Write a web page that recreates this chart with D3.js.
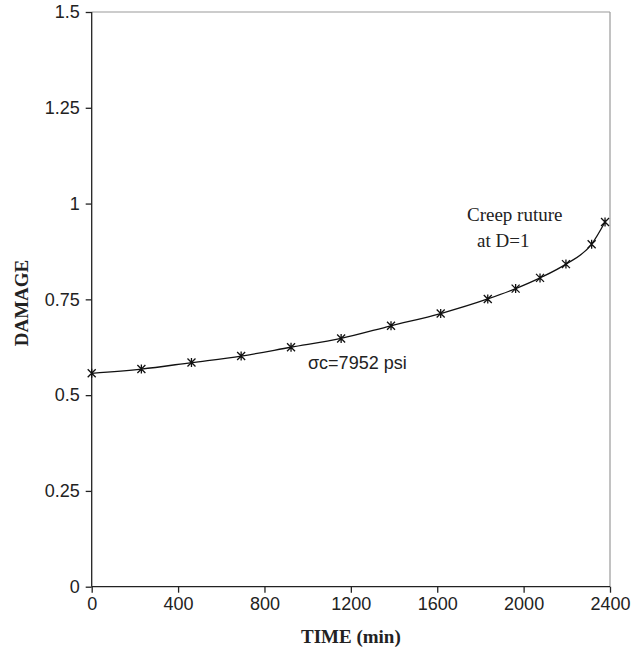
<!DOCTYPE html>
<html>
<head>
<meta charset="utf-8">
<script src="https://cdn.jsdelivr.net/npm/d3@7"></script>
<style>
  body { margin: 0; background: #fff; }
  svg { display: block; }
  .tick text { font-family: "Liberation Sans", Arial, sans-serif; font-size: 18px; fill: #222; }
</style>
</head>
<body>
<svg id="chart" width="644" height="651"></svg>
<script>
// values
const time = [0, 230, 462, 692, 923, 1155, 1386, 1616, 1834, 1963, 2076, 2196, 2315, 2377];
const damage = [0.557, 0.568, 0.585, 0.602, 0.625, 0.648, 0.681, 0.713, 0.751, 0.778, 0.806, 0.842, 0.894, 0.952];
const xTicks = [0, 400, 800, 1200, 1600, 2000, 2400];
const yTicks = [0, 0.25, 0.5, 0.75, 1, 1.25, 1.5];

const margin = {top: 12, right: 34, bottom: 64.3, left: 91.7};
const width = 644 - margin.left - margin.right;
const height = 651 - margin.top - margin.bottom;

svg = d3.select('#chart');
g = svg.append('g').attr('transform', `translate(${margin.left},${margin.top})`);

x = d3.scaleLinear().domain([0, 2400]).range([0, width]);
y = d3.scaleLinear().domain([0, 1.5]).range([height, 0]);

// grey frame top + right
g.append('line').attr('x1', 0).attr('x2', width).attr('y1', 0).attr('y2', 0)
    .attr('stroke', '#999').attr('stroke-width', 1.2);
g.append('line').attr('x1', width).attr('x2', width).attr('y1', 0).attr('y2', height)
    .attr('stroke', '#999').attr('stroke-width', 1.2);

xAxis = g.append('g').attr('transform', `translate(0,${height})`)
    .call(d3.axisBottom(x).tickValues(xTicks).tickSize(6).tickPadding(5).tickFormat(d3.format('d')));
yAxis = g.append('g')
    .call(d3.axisLeft(y).tickValues(yTicks).tickSize(6).tickPadding(6).tickFormat(d => d));
[xAxis, yAxis].forEach(a => {
    a.selectAll('path, line').attr('stroke', '#222').attr('stroke-width', 1.3);
    a.select('.domain').attr('d', a === xAxis ? `M0,0H${width}` : `M0,0V${height}`);
});

// curve
line = d3.line().x((d, i) => x(time[i])).y(d => y(d)).curve(d3.curveMonotoneX);
g.append('path').datum(damage)
    .attr('d', line)
    .attr('fill', 'none')
    .attr('stroke', '#111')
    .attr('stroke-width', 1.3);

// asterisk markers
const s = 4;
g.selectAll('.marker')
    .data(damage)
    .join('path')
    .classed('marker', true)
    .attr('transform', (d, i) => `translate(${x(time[i])},${y(d)})`)
    .attr('d', `M${-s},${-s}L${s},${s}M${-s},${s}L${s},${-s}M0,${-s - 0.5}L0,${s + 0.5}`)
    .attr('stroke', '#111')
    .attr('stroke-width', 1.3)
    .attr('fill', 'none');

// annotations
svg.append('text').attr('x', 308).attr('y', 369)
    .attr('font-family', '"Liberation Sans", Arial, sans-serif').attr('font-size', 18).attr('fill', '#222')
    .text('σc=7952 psi');
svg.append('text').attr('x', 467).attr('y', 221)
    .attr('font-family', '"Liberation Serif", "Times New Roman", serif').attr('font-size', 19).attr('fill', '#222')
    .text('Creep ruture');
svg.append('text').attr('x', 477).attr('y', 247)
    .attr('font-family', '"Liberation Serif", "Times New Roman", serif').attr('font-size', 19).attr('fill', '#222')
    .text('at D=1');

// axis titles
svg.append('text').attr('x', margin.left + width / 2).attr('y', 643)
    .attr('text-anchor', 'middle')
    .attr('font-family', '"Liberation Serif", "Times New Roman", serif').attr('font-size', 19).attr('font-weight', 'bold').attr('fill', '#222')
    .text('TIME (min)');
svg.append('text').attr('transform', 'translate(28,303) rotate(-90)')
    .attr('text-anchor', 'middle')
    .attr('font-family', '"Liberation Serif", "Times New Roman", serif').attr('font-size', 19).attr('font-weight', 'bold').attr('fill', '#222')
    .text('DAMAGE');
</script>
</body>
</html>
